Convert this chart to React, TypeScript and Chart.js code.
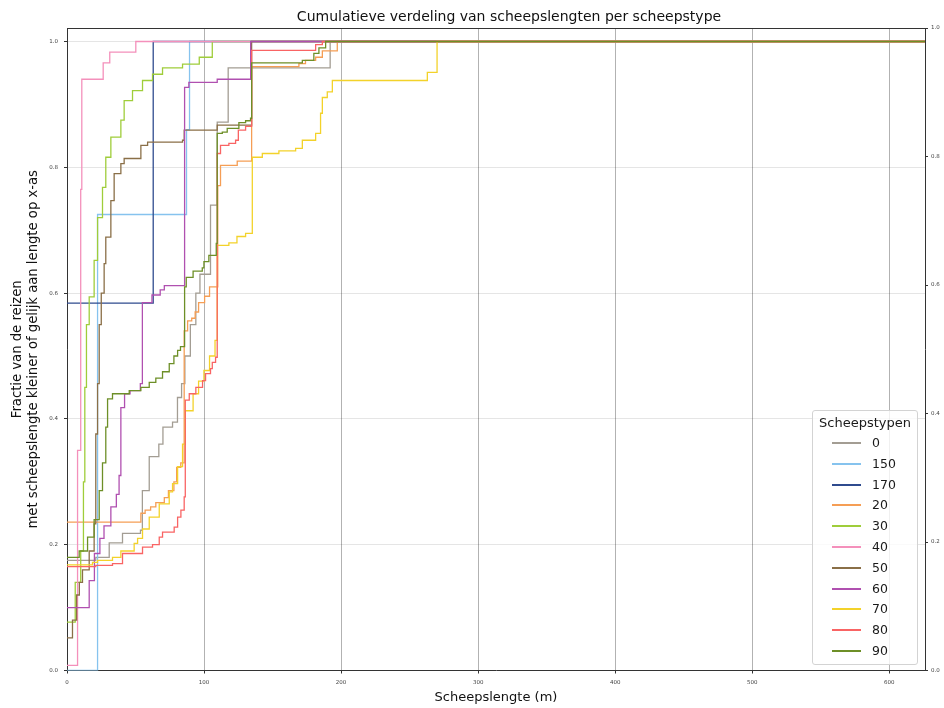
import React, { useEffect, useRef } from 'react';
import { Chart, registerables } from 'chart.js';

Chart.register(...registerables);

const FONT = '"DejaVu Sans", Verdana, sans-serif';

const chartTitle = 'Cumulatieve verdeling van scheepslengten per scheepstype';
const xTitle = 'Scheepslengte (m)';
const yTitle = ['Fractie van de reizen', 'met scheepslengte kleiner of gelijk aan lengte op x-as'];
const legendTitle = 'Scheepstypen';

const scheepstypen = ['0', '150', '170', '20', '30', '40', '50', '60', '70', '80', '90'];
const kleuren = ['#a39d93', '#86c3ee', '#2f4b8e', '#f59e55', '#9fcd3a', '#f490bb', '#8a6f47', '#b050b0', '#f3d22a', '#f96464', '#6d8f27'];

const maxLengte = 626;
const xTickStep = 100;
const yTickStep = 0.2;
const yLeftMax = 1.0215;

// Scheepstype 0
const lengte0 = [0, 21, 30.8, 40.5, 53.6, 55, 60, 67, 70, 77, 80.6, 83.6, 86, 90, 94, 97, 104.7, 109.6, 117.6, 192, 626];
const fractie0 = [0.175, 0.18, 0.203, 0.218, 0.223, 0.286, 0.34, 0.36, 0.387, 0.395, 0.434, 0.456, 0.5, 0.55, 0.6, 0.63, 0.74, 0.872, 0.958, 1.0, 1.0];
// Scheepstype 150
const lengte150 = [0, 22.3, 87.2, 89.4, 626];
const fractie150 = [0, 0.725, 0.86, 1.0, 1.0];
// Scheepstype 170
const lengte170 = [0, 62.9, 626];
const fractie170 = [0.584, 1.0, 1.0];
// Scheepstype 20
const lengte20 = [0, 53.9, 57, 61, 64.8, 71, 74, 78, 80, 83, 85.5, 88, 91, 93.5, 96, 100.4, 104, 110, 112, 124.2, 134.7, 169.2, 174, 181.4, 186.3, 197.2, 626];
const fractie20 = [0.236, 0.25, 0.255, 0.26, 0.267, 0.275, 0.286, 0.3, 0.323, 0.33, 0.54, 0.556, 0.56, 0.57, 0.585, 0.595, 0.61, 0.771, 0.803, 0.81, 0.96, 0.965, 0.97, 0.975, 0.985, 1.0, 1.0];
// Scheepstype 30
const lengte30 = [0, 6, 10, 12, 13, 14.2, 16.2, 19.8, 22.3, 25.9, 28.3, 32, 39.3, 41.7, 47.8, 55.1, 62.4, 69.7, 84.3, 96.5, 106, 626];
const fractie30 = [0.077, 0.14, 0.19, 0.3, 0.45, 0.55, 0.594, 0.652, 0.72, 0.768, 0.816, 0.848, 0.875, 0.906, 0.922, 0.938, 0.948, 0.958, 0.964, 0.975, 1.0, 1.0];
// Scheepstype 40
const lengte40 = [0, 7.7, 10, 10.8, 26.4, 31.2, 50.2, 626];
const fractie40 = [0.008, 0.35, 0.765, 0.94, 0.966, 0.983, 1.0, 1.0];
// Scheepstype 50
const lengte50 = [0, 4, 7, 9, 11.3, 16.2, 19.8, 21, 22.3, 23.5, 25, 27.1, 28.3, 32, 34.4, 39.3, 41.7, 53.9, 58.8, 84.3, 85.5, 109.6, 134.7, 626];
const fractie50 = [0.052, 0.08, 0.12, 0.14, 0.16, 0.19, 0.233, 0.376, 0.456, 0.55, 0.6, 0.647, 0.689, 0.747, 0.79, 0.806, 0.814, 0.835, 0.84, 0.843, 0.859, 0.867, 1.0, 1.0];
// Scheepstype 60
const lengte60 = [0, 16.2, 20, 24, 27, 32, 36, 38, 39.3, 42, 46, 53.5, 55, 62, 68, 71, 85.8, 88.9, 109.6, 134, 626];
const fractie60 = [0.1, 0.143, 0.186, 0.21, 0.23, 0.26, 0.28, 0.31, 0.418, 0.44, 0.445, 0.456, 0.585, 0.597, 0.605, 0.612, 0.927, 0.935, 0.94, 1.0, 1.0];
// Scheepstype 70
const lengte70 = [0, 18.6, 22.3, 33.2, 39.3, 49, 51.5, 55.1, 60, 67.3, 74.6, 77, 80.7, 84.3, 86.3, 92, 96, 99.9, 104, 108, 109.6, 118.1, 124, 130.3, 135.2, 142.5, 154.6, 166.8, 171.7, 181.4, 185, 186.3, 189.9, 193.6, 262.9, 270, 626];
const fractie70 = [0.168, 0.172, 0.175, 0.18, 0.19, 0.202, 0.21, 0.225, 0.244, 0.265, 0.284, 0.297, 0.324, 0.36, 0.413, 0.44, 0.46, 0.477, 0.5, 0.525, 0.676, 0.68, 0.69, 0.695, 0.816, 0.822, 0.826, 0.83, 0.843, 0.854, 0.886, 0.911, 0.92, 0.938, 0.951, 1.0, 1.0];
// Scheepstype 80
const lengte80 = [0, 21, 33.2, 40.5, 55.1, 62.4, 67.3, 69.7, 78.2, 80.7, 83.1, 85.5, 86.3, 89.2, 94, 98.9, 101.1, 104.7, 106, 108.4, 109.6, 112, 118.1, 123, 125, 130.3, 134.7, 181.4, 186.3, 626];
const fractie80 = [0.165, 0.167, 0.17, 0.186, 0.196, 0.2, 0.212, 0.22, 0.228, 0.244, 0.255, 0.276, 0.43, 0.44, 0.45, 0.461, 0.472, 0.48, 0.49, 0.498, 0.822, 0.835, 0.838, 0.843, 0.859, 0.865, 0.986, 0.995, 1.0, 1.0];
// Scheepstype 90
const lengte90 = [0, 8.9, 15, 19.8, 23.5, 25.9, 28.3, 29.6, 33.2, 45.4, 53.9, 60, 64.8, 69.7, 74.6, 78, 80.7, 82.8, 85.8, 87, 92, 98.7, 99.9, 103.5, 108.9, 109.6, 113.3, 116.9, 125.4, 130.3, 133.9, 134.7, 171.7, 180.1, 183.8, 188.7, 626];
const fractie90 = [0.18, 0.19, 0.212, 0.24, 0.286, 0.33, 0.387, 0.432, 0.44, 0.445, 0.45, 0.458, 0.465, 0.475, 0.488, 0.5, 0.509, 0.515, 0.61, 0.625, 0.635, 0.64, 0.65, 0.66, 0.679, 0.854, 0.856, 0.862, 0.871, 0.874, 0.878, 0.966, 0.97, 0.981, 0.99, 1.0, 1.0];

const lengtes = [lengte0, lengte150, lengte170, lengte20, lengte30, lengte40, lengte50, lengte60, lengte70, lengte80, lengte90];
const fracties = [fractie0, fractie150, fractie170, fractie20, fractie30, fractie40, fractie50, fractie60, fractie70, fractie80, fractie90];

const topBorder = {
  id: 'topBorder',
  afterDraw(chart: any) {
    const { ctx, chartArea } = chart;
    ctx.save();
    ctx.strokeStyle = '#333';
    ctx.lineWidth = 1;
    ctx.beginPath();
    ctx.moveTo(chartArea.left, Math.round(chartArea.top) + 0.5);
    ctx.lineTo(chartArea.right, Math.round(chartArea.top) + 0.5);
    ctx.stroke();
    ctx.restore();
  },
};

export default function App() {
  const ref = useRef<HTMLCanvasElement | null>(null);

  useEffect(() => {
    if (!ref.current) return;
    const n = scheepstypen.length;
    const datasets = scheepstypen.map((t, i) => ({
      label: t,
      data: lengtes[i].map((x, j) => ({ x, y: fracties[i][j] })),
      borderColor: kleuren[i],
      backgroundColor: kleuren[i],
      borderWidth: 1.3,
      pointRadius: 0,
      stepped: true as const,
      fill: false,
      order: n - i,
      yAxisID: 'y',
    }));
    const tickFont = { family: FONT, size: 5.5 };
    const chart = new Chart(ref.current, {
      type: 'line',
      data: { datasets },
      plugins: [topBorder],
      options: {
        responsive: false,
        animation: false,
        devicePixelRatio: 1,
        layout: { padding: { top: 28, left: 0, right: 0, bottom: 0 } },
        plugins: {
          legend: { display: false },
          tooltip: { enabled: false },
          title: { display: false },
        },
        scales: {
          x: {
            type: 'linear',
            position: 'bottom',
            min: 0,
            max: maxLengte,
            ticks: {
              stepSize: xTickStep,
              includeBounds: false,
              autoSkip: false,
              maxRotation: 0,
              color: '#444',
              font: tickFont,
              padding: 6,
              callback: (v: any) => String(v),
            },
            grid: { color: 'rgba(0,0,0,0.3)', lineWidth: 1, tickColor: '#333', tickLength: 3 },
            border: { color: '#333', width: 1 },
            title: {
              display: true,
              text: xTitle,
              color: '#111',
              font: { family: FONT, size: 13, lineHeight: 1.2 },
              padding: { top: 0, bottom: 2.5 },
            },
            afterFit: (s: any) => { s.height = 37.5; },
          },
          y: {
            type: 'linear',
            position: 'left',
            min: 0,
            max: yLeftMax,
            ticks: {
              stepSize: yTickStep,
              includeBounds: false,
              color: '#444',
              font: tickFont,
              padding: 6,
              callback: (v: any) => Number(v).toFixed(1),
            },
            grid: { color: 'rgba(0,0,0,0.1)', lineWidth: 1, tickColor: '#333', tickLength: 3 },
            border: { color: '#333', width: 1 },
            title: {
              display: true,
              text: yTitle,
              color: '#111',
              font: { family: FONT, size: 13.2, lineHeight: 1.17 },
              padding: { top: 10, bottom: 0 },
            },
            afterFit: (s: any) => { s.width = 67; },
          },
          y2: {
            type: 'linear',
            position: 'right',
            min: 0,
            max: 1,
            ticks: {
              stepSize: yTickStep,
              color: '#444',
              font: tickFont,
              padding: 3,
              callback: (v: any) => Number(v).toFixed(1),
            },
            grid: { drawOnChartArea: false, tickColor: '#333', tickLength: 3 },
            border: { color: '#333', width: 1 },
            afterFit: (s: any) => { s.width = 19; },
          },
        },
      } as any,
    });
    return () => chart.destroy();
  }, []);

  const boxLeft = 812;
  const boxTop = 410;
  return (
    <div style={{ position: 'absolute', left: 0, top: 0, width: 944, height: 708, background: '#fff' }}>
      <canvas ref={ref} width={944} height={708} style={{ display: 'block' }} />
      <div
        style={{
          position: 'absolute',
          left: 509,
          top: 6,
          transform: 'translateX(-50%)',
          whiteSpace: 'nowrap',
          fontFamily: FONT,
          fontSize: 14,
          lineHeight: '20px',
          color: '#111',
        }}
      >
        {chartTitle}
      </div>
      <div
        style={{
          position: 'absolute',
          left: boxLeft,
          top: boxTop,
          width: 106,
          height: 255,
          boxSizing: 'border-box',
          border: '1px solid #d3d3d3',
          borderRadius: 3,
          background: 'rgba(255,255,255,0.8)',
          fontFamily: FONT,
          color: '#1a1a1a',
        }}
      >
        <div style={{ position: 'absolute', left: 0, width: 104, top: 2, height: 20, lineHeight: '20px', textAlign: 'center', fontSize: 13 }}>
          {legendTitle}
        </div>
        {scheepstypen.map((t, i) => (
          <div key={t} style={{ position: 'absolute', left: 0, top: 22 + i * 20.8, height: 20, width: 104 }}>
            <div style={{ position: 'absolute', left: 19, top: 9, width: 29, height: 2, background: kleuren[i] }} />
            <div style={{ position: 'absolute', left: 59, top: 0, height: 20, lineHeight: '20px', fontSize: 12.5 }}>{t}</div>
          </div>
        ))}
      </div>
    </div>
  );
}
